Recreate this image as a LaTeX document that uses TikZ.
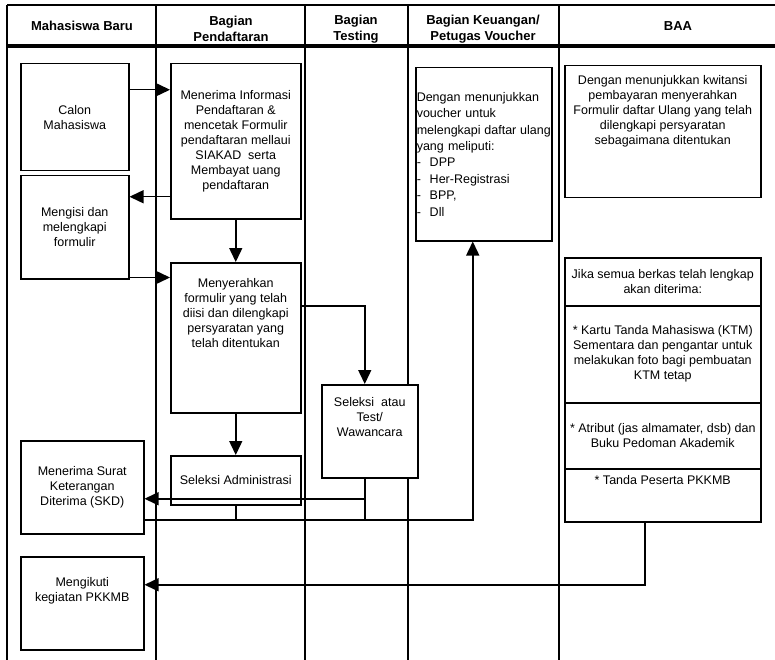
\documentclass[tikz,border=0pt]{standalone}
\usepackage{fontspec}
\setmainfont{Liberation Sans}
\usetikzlibrary{positioning,arrows.meta}

\begin{document}
\begin{tikzpicture}[
    x=1pt, y=-1pt,
    lane/.style={line width=2.4pt},
    head/.style={font=\fontsize{13}{16}\selectfont\bfseries, align=center},
    box/.style={draw, line width=1.5pt, fill=white, anchor=north west,
                inner sep=2pt, align=center, font=\fontsize{12.5}{15}\selectfont},
    txt/.style={align=center, inner sep=0pt, font=\fontsize{12.5}{15}\selectfont},
    arr/.style={line width=1.5pt, -{Triangle[length=14pt, width=13pt]}},
    link/.style={line width=1.5pt},
  ]
  \useasboundingbox (0,0) rectangle (775,660);

  % Swimlanes
  \draw[lane] (7,5) -- (775,5);
  \draw[lane, line width=3.5pt] (7,46) -- (775,46);
  \foreach \x in {7,156,305,408,559}
    \draw[lane] (\x,5) -- (\x,660);

  \node[head] (hmhs) at (82,26) {Mahasiswa Baru};
  \node[head] (hdaftar) at (231,29) {Bagian\\Pendaftaran};
  \node[head] (htest) at (356,29) {Bagian\\Testing};
  \node[head] (huang) at (483,29) {Bagian Keuangan/\\Petugas Voucher};
  \node[head] (hbaa) at (678,26) {BAA};

  % Mahasiswa Baru
  \node[box, minimum width=108pt, minimum height=107pt] (calon) at (20,63) {Calon\\Mahasiswa};
  \node[box, minimum width=108pt, minimum height=103pt] (mengisi) at (20,175) {Mengisi dan\\melengkapi\\formulir};
  \node[box, minimum width=123pt, minimum height=93pt] (skd) at (20,440) {Menerima Surat\\Keterangan\\Diterima (SKD)};
  \node[box, minimum width=123pt, minimum height=93pt,
        label={[txt, below=21pt]north:{Mengikuti\\kegiatan PKKMB}}] (ikut) at (20,556) {};

  % Bagian Pendaftaran
  \node[box, minimum width=130pt, minimum height=155pt] (info) at (170,63)
    {Menerima Informasi\\Pendaftaran \&\\mencetak Formulir\\pendaftaran mellaui\\SIAKAD\ \ serta\\Membayat uang\\pendaftaran};
  \node[box, minimum width=130pt, minimum height=150pt,
        label={[txt, below=16pt]north:{Menyerahkan\\formulir yang telah\\diisi dan dilengkapi\\persyaratan yang\\telah ditentukan}}] (serah) at (170,262) {};
  \node[box, minimum width=130pt, minimum height=49pt] (adm) at (170,455) {Seleksi Administrasi};

  % Bagian Testing
  \node[box, minimum width=96pt, minimum height=93pt,
        label={[txt, below=13pt]north:{Seleksi\ \ atau\\Test/\\Wawancara}}] (test) at (321,384) {};

  % Bagian Keuangan / voucher
  \node[box, minimum width=136pt, minimum height=173pt, align=left, text width=134pt, inner xsep=1pt,
        font=\fontsize{12.5}{16.4}\selectfont] (voucher) at (415,67)
    {Dengan menunjukkan\\voucher untuk\\melengkapi\hfill daftar\hfill ulang\\yang meliputi:\\
     \makebox[13pt][l]{-}DPP\\\makebox[13pt][l]{-}Her-Registrasi\\\makebox[13pt][l]{-}BPP,\\\makebox[13pt][l]{-}Dll};

  % BAA
  \node[box, minimum width=196pt, minimum height=132pt,
        label={[txt, below=10pt]north:{Dengan menunjukkan kwitansi\\pembayaran menyerahkan\\Formulir daftar Ulang yang telah\\dilengkapi persyaratan\\sebagaimana ditentukan}}] (baa) at (564,65) {};
  \node[box, minimum width=196pt, minimum height=48pt] (jika) at (564,257) {Jika semua berkas telah lengkap\\akan diterima:};
  \node[box, minimum width=196pt, minimum height=97pt] (ktm) at (564,305)
    {* Kartu Tanda Mahasiswa (KTM)\\Sementara dan pengantar untuk\\melakukan foto bagi pembuatan\\KTM tetap};
  \node[box, minimum width=196pt, minimum height=66pt] (atribut) at (564,402) {* Atribut (jas almamater, dsb) dan\\Buku Pedoman Akademik};
  \node[box, minimum width=196pt, minimum height=53pt,
        label={[txt, below=7pt]north:{* Tanda Peserta PKKMB}}] (tanda) at (564,468) {};

  % Arrows: pendaftaran
  \draw[arr] ([yshift=27.5pt]calon.east) -- ([yshift=27.5pt]calon.east -| info.west);
  \draw[arr] ([yshift=30.5pt]mengisi.east -| info.west) -- ([yshift=30.5pt]mengisi.east);
  \draw[arr] (info) -- (serah);
  \draw[arr] ([yshift=2pt]mengisi.south east) -- ([yshift=2pt]mengisi.south east -| serah.west);
  \draw[arr] (serah) -- (adm);
  \draw[arr] ([yshift=32pt]serah.east) -| ([xshift=-5pt]test.north);

  % Arrows: hasil seleksi
  \draw[arr] ([xshift=-5pt]test.south) |- ([yshift=-11.5pt]skd.east);
  \coordinate (jn) at ([yshift=-32.5pt]skd.east);
  \draw[link] (adm) -- (adm |- jn);
  \draw[link] ([xshift=-5pt]test.south) -- ([xshift=-5pt]test.south |- jn);
  \draw[arr] (jn) -| ([xshift=-11pt]voucher.south);

  % Arrow: BAA to PKKMB
  \draw[arr] ([xshift=-18pt]tanda.south) |- ([yshift=18.5pt]ikut.east);

\end{tikzpicture}
\end{document}
